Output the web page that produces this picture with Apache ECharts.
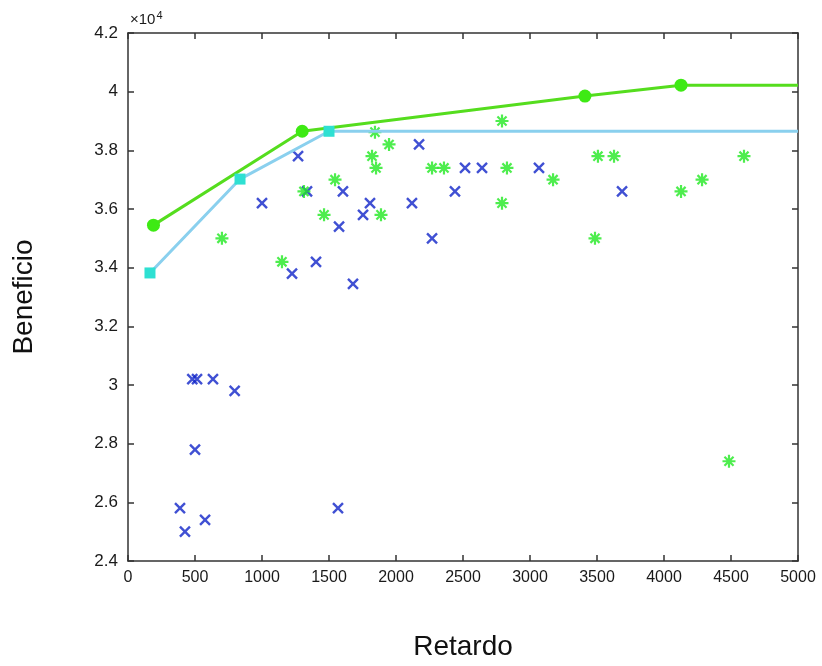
<!DOCTYPE html>
<html>
<head>
<meta charset="utf-8">
<script src="https://cdn.jsdelivr.net/npm/echarts@6/dist/echarts.min.js"></script>
<style>html,body{margin:0;padding:0;background:#fff}#c{width:822px;height:666px}</style>
</head>
<body>
<div id="c"></div>
<script>
// Values of Beneficio are in units of 10^4
const xTicks = [0, 500, 1000, 1500, 2000, 2500, 3000, 3500, 4000, 4500, 5000];
const yTicks = [2.4, 2.6, 2.8, 3, 3.2, 3.4, 3.6, 3.8, 4, 4.2];

const greenFrontX = [190, 1300, 3410, 4127, 5000];
const greenFrontY = [3.545, 3.865, 3.985, 4.022, 4.022];
const greenFrontMarked = [true, true, true, true, false];

const cyanFrontX = [164, 836, 1500, 5000];
const cyanFrontY = [3.382, 3.702, 3.865, 3.865];
const cyanFrontMarked = [true, true, true, false];

const blueX = [1000, 1269, 1336, 1604, 1575, 1403, 1224, 1679, 1754, 1806, 2172, 2515, 2642, 3067, 2440, 3687, 2119, 2269, 480, 515, 634, 796, 500, 388, 425, 575, 1567];
const blueY = [3.62, 3.78, 3.66, 3.66, 3.54, 3.42, 3.38, 3.345, 3.58, 3.62, 3.82, 3.74, 3.74, 3.74, 3.66, 3.66, 3.62, 3.50, 3.02, 3.02, 3.02, 2.98, 2.78, 2.58, 2.50, 2.54, 2.58];

const greenX = [701, 1149, 1313, 1545, 1463, 1821, 1851, 1843, 1948, 1888, 2791, 2269, 2358, 2828, 3172, 3507, 3627, 4597, 4127, 4284, 2791, 3485, 4485];
const greenY = [3.50, 3.42, 3.66, 3.70, 3.58, 3.78, 3.74, 3.862, 3.82, 3.58, 3.90, 3.74, 3.74, 3.74, 3.70, 3.78, 3.78, 3.78, 3.66, 3.70, 3.62, 3.50, 2.74];

const toPairs = (xs, ys) => xs.map((x, i) => [x, ys[i]]);
const frontData = (xs, ys, marked) => xs.map((x, i) => ({
  value: [x, ys[i]],
  symbolSize: marked[i] ? undefined : 0
}));

const xSym = 'path://M0,0L10,10M10,0L0,10';
const starSym = 'path://M5,0L5,10M0,5L10,5M1.5,1.5L8.5,8.5M8.5,1.5L1.5,8.5';

const chart = echarts.init(document.getElementById('c'), null, {renderer: 'canvas'});
const FONT = 'Liberation Sans, Arial, sans-serif';
const lineStyleAx = {color: '#333', width: 1.5};
const tickIn = {show: true, inside: true, length: 6, lineStyle: lineStyleAx};
chart.setOption({
  animation: false,
  backgroundColor: '#fff',
  grid: {left: 128, right: 24, top: 33, bottom: 105, containLabel: false},
  xAxis: [{
    type: 'value', min: 0, max: 5000, interval: 500, position: 'bottom',
    name: 'Retardo', nameLocation: 'middle', nameGap: 72,
    nameTextStyle: {fontSize: 28, color: '#111', fontFamily: FONT},
    axisLine: {show: true, onZero: false, lineStyle: lineStyleAx},
    axisTick: tickIn,
    axisLabel: {margin: 9, color: '#1a1a1a', fontSize: 16, fontFamily: FONT,
      formatter: v => xTicks.includes(v) ? String(v) : ''},
    splitLine: {show: false}
  }, {
    type: 'value', min: 0, max: 5000, interval: 500, position: 'top',
    axisLine: {show: true, onZero: false, lineStyle: lineStyleAx},
    axisTick: tickIn,
    axisLabel: {show: false}, splitLine: {show: false}
  }],
  yAxis: [{
    type: 'value', min: 2.4, max: 4.2, interval: 0.2, position: 'left',
    name: 'Beneficio', nameLocation: 'middle', nameGap: 90, nameRotate: 90,
    nameTextStyle: {fontSize: 28, color: '#111', fontFamily: FONT},
    axisLine: {show: true, onZero: false, lineStyle: lineStyleAx},
    axisTick: tickIn,
    axisLabel: {margin: 10, color: '#1a1a1a', fontSize: 17, fontFamily: FONT,
      formatter: v => {
        const t = yTicks.find(k => Math.abs(k - v) < 1e-6);
        return t === undefined ? '' : String(t);
      }},
    splitLine: {show: false}
  }, {
    type: 'value', min: 2.4, max: 4.2, interval: 0.2, position: 'right',
    axisLine: {show: true, onZero: false, lineStyle: lineStyleAx},
    axisTick: tickIn,
    axisLabel: {show: false}, splitLine: {show: false}
  }],
  graphic: [{
    type: 'text', left: 130, top: 10,
    style: {
      text: '{a|×10}{b|4}',
      rich: {
        a: {fontSize: 15, fill: '#1a1a1a', fontFamily: FONT},
        b: {fontSize: 11, fill: '#1a1a1a', verticalAlign: 'top', padding: [0, 0, 8, 1], fontFamily: FONT}
      }
    }
  }],
  series: [{
    type: 'scatter', name: 'blue', data: toPairs(blueX, blueY),
    symbol: xSym, symbolSize: 10,
    itemStyle: {color: 'rgba(0,0,0,0)', borderColor: '#1024c8', borderWidth: 2.4}
  }, {
    type: 'scatter', name: 'green', data: toPairs(greenX, greenY),
    symbol: starSym, symbolSize: 13,
    itemStyle: {color: 'rgba(0,0,0,0)', borderColor: '#22e822', borderWidth: 2.2}
  }, {
    type: 'line', name: 'cyanFront', data: frontData(cyanFrontX, cyanFrontY, cyanFrontMarked),
    symbol: 'rect', symbolSize: 11, showAllSymbol: true,
    lineStyle: {color: '#8ad0ee', width: 3},
    itemStyle: {color: '#2ee0d2', borderWidth: 0}
  }, {
    type: 'line', name: 'greenFront', data: frontData(greenFrontX, greenFrontY, greenFrontMarked),
    symbol: 'circle', symbolSize: 13, showAllSymbol: true,
    lineStyle: {color: '#55dd1e', width: 3},
    itemStyle: {color: '#3eea14', borderWidth: 0}
  }]
});
</script>
</body>
</html>
